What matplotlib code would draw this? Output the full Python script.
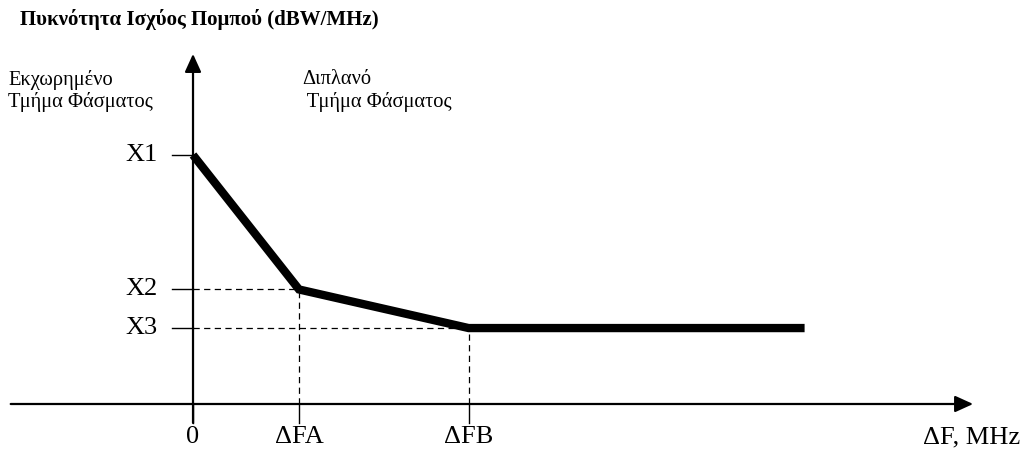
import matplotlib
matplotlib.use("Agg")
import matplotlib.pyplot as plt

plt.rcParams['font.family'] = ['Liberation Serif', 'DejaVu Serif']

# mask breakpoints (frequency offset, arbitrary units)
freq = [0.0, 1.0, 2.6, 5.77]
level = [10.0, 4.6, 3.05, 3.05]
freq_labels = ['0', 'ΔFA', 'ΔFB']
level_labels = ['X1', 'X2', 'X3']

title = 'Πυκνότητα Ισχύος Πομπού (dBW/MHz)'
x_name = 'ΔF, MHz'
left_region = 'Εκχωρημένο\nΤμήμα Φάσματος'
right_region = 'Διπλανό\n Τμήμα Φάσματος'

fig = plt.figure(figsize=(10.24, 4.53), dpi=100)
ax = fig.add_axes([0, 0, 1, 1])
ax.set_xlim(-1.821, 7.840)
ax.set_ylim(-1.968, 16.225)
ax.axis('off')

# axes with arrows
ax.annotate('', xy=(7.36, 0), xytext=(-1.72, 0),
            arrowprops=dict(arrowstyle='-|>,head_length=1.1,head_width=0.5',
                            lw=1.6, color='black', shrinkA=0, shrinkB=0))
ax.annotate('', xy=(0, 14.06), xytext=(0, -0.76),
            arrowprops=dict(arrowstyle='-|>,head_length=1.1,head_width=0.5',
                            lw=1.6, color='black', shrinkA=0, shrinkB=0))

# mask curve
ax.plot(freq, level, color='black', lw=6, solid_joinstyle='miter', solid_capstyle='butt')

# y ticks + dashed guides
for i, (lv, lab) in enumerate(zip(level[:3], level_labels)):
    ax.plot([-0.2, 0], [lv, lv], color='black', lw=1.0)
    ax.text(-0.33, lv, lab, ha='right', va='center', fontsize=19)
    if i > 0:
        ax.plot([0, freq[i]], [lv, lv], color='black', lw=0.9, ls=(0, (5, 3.5)))
        ax.plot([freq[i], freq[i]], [0, lv], color='black', lw=0.9, ls=(0, (5, 3.5)))

# x ticks
for f, lab in zip(freq[:3], freq_labels):
    ax.plot([f, f], [-0.76, 0], color='black', lw=1.0)
    ax.text(f, -1.33, lab, ha='center', va='center', fontsize=19)

ax.text(7.84 - 0.04, -1.33, x_name, ha='right', va='center', fontsize=19)

fig.text(20 / 1024, 1 - 20 / 453, title, ha='left', va='center', fontsize=15, fontweight='bold')
fig.text(8 / 1024, 1 - 91 / 453, left_region, ha='left', va='center', fontsize=14.8, linespacing=1.2)
fig.text(302 / 1024, 1 - 91 / 453, right_region, ha='left', va='center', fontsize=14.8, linespacing=1.2)

fig.savefig('out.png', dpi=100)
